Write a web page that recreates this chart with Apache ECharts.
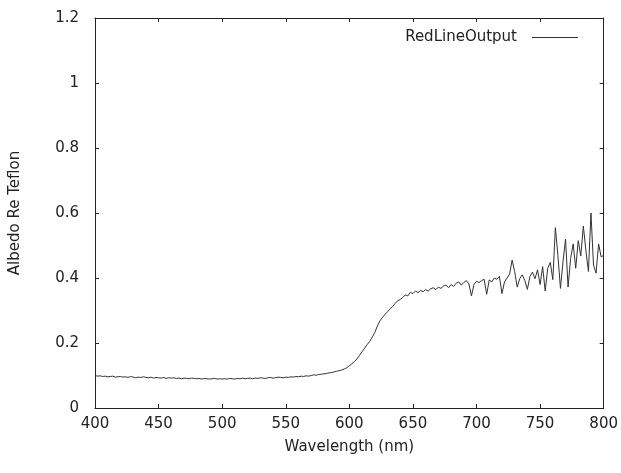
<!DOCTYPE html>
<html>
<head>
<meta charset="utf-8">
<title>RedLineOutput</title>
<script src="https://cdn.jsdelivr.net/npm/echarts@6/dist/echarts.min.js"></script>
<style>
  html, body { margin: 0; padding: 0; background: #fff; }
  #chart { width: 621px; height: 473px; }
</style>
</head>
<body>
<div id="chart"></div>
<script>
// Wavelength grid: 400 to 800 nm, one sample every 2 nm
const startNm = 400;
const stepNm = 2;

// Albedo values, 10 samples (20 nm) per row
const albedo = [
  0.100, 0.098, 0.099, 0.097, 0.098, 0.096, 0.097, 0.098, 0.095, 0.096, // 400
  0.097, 0.095, 0.096, 0.094, 0.097, 0.095, 0.093, 0.095, 0.094, 0.096, // 420
  0.094, 0.093, 0.095, 0.092, 0.094, 0.093, 0.092, 0.094, 0.091, 0.093, // 440
  0.092, 0.093, 0.091, 0.092, 0.090, 0.092, 0.091, 0.090, 0.092, 0.091, // 460
  0.090, 0.091, 0.089, 0.091, 0.090, 0.089, 0.090, 0.091, 0.089, 0.090, // 480
  0.089, 0.090, 0.089, 0.091, 0.090, 0.089, 0.091, 0.090, 0.092, 0.090, // 500
  0.091, 0.092, 0.090, 0.092, 0.091, 0.093, 0.092, 0.091, 0.093, 0.094, // 520
  0.092, 0.093, 0.095, 0.094, 0.093, 0.095, 0.094, 0.096, 0.095, 0.097, // 540
  0.096, 0.098, 0.097, 0.099, 0.098, 0.100, 0.102, 0.101, 0.103, 0.104, // 560
  0.105, 0.106, 0.108, 0.109, 0.111, 0.113, 0.115, 0.117, 0.120, 0.124, // 580
  0.130, 0.136, 0.143, 0.151, 0.162, 0.173, 0.184, 0.195, 0.205, 0.218, // 600
  0.232, 0.252, 0.268, 0.278, 0.288, 0.296, 0.305, 0.312, 0.322, 0.330, // 620
  0.334, 0.340, 0.348, 0.345, 0.356, 0.352, 0.360, 0.355, 0.362, 0.358, // 640
  0.364, 0.360, 0.367, 0.370, 0.364, 0.372, 0.368, 0.375, 0.378, 0.370, // 660
  0.380, 0.374, 0.384, 0.388, 0.378, 0.386, 0.392, 0.382, 0.345, 0.380, // 680
  0.390, 0.386, 0.392, 0.396, 0.350, 0.394, 0.388, 0.400, 0.396, 0.405, // 700
  0.352, 0.388, 0.400, 0.412, 0.455, 0.420, 0.372, 0.398, 0.410, 0.392, // 720
  0.365, 0.405, 0.418, 0.398, 0.425, 0.380, 0.435, 0.360, 0.430, 0.448, // 740
  0.395, 0.555, 0.470, 0.368, 0.450, 0.520, 0.372, 0.460, 0.505, 0.430, // 760
  0.515, 0.468, 0.560, 0.485, 0.420, 0.600, 0.440, 0.415, 0.505, 0.465, // 780
  0.470                                                                 // 800
];

const seriesName = 'RedLineOutput';
const xName = 'Wavelength (nm)';
const yName = 'Albedo Re Teflon';

// pair each value with its wavelength
const points = albedo.map((v, i) => [startNm + i * stepNm, v]);

const ink = '#222';
const font = 'DejaVu Sans';
const fontSize = 15;

const chart = echarts.init(document.getElementById('chart'));

// shared look for the boxed gnuplot-style frame
const frameAxis = {
  type: 'value',
  axisLine: { show: true, onZero: false, lineStyle: { color: ink, width: 1 } },
  axisTick: { show: true, inside: true, length: 4, lineStyle: { color: ink } },
  splitLine: { show: false },
  axisLabel: { color: ink, fontFamily: font, fontSize: fontSize }
};

chart.setOption({
  animation: false,
  backgroundColor: '#fff',
  grid: { left: 93, right: 17, top: 18, bottom: 65, containLabel: false },
  legend: {
    data: [seriesName],
    right: 38,
    top: 25,
    align: 'right',
    itemWidth: 46,
    itemHeight: 1,
    icon: 'rect',
    textStyle: { color: ink, fontFamily: font, fontSize: fontSize, padding: [0, 10, 0, 0] }
  },
  xAxis: [
    Object.assign({}, frameAxis, {
      min: 400, max: 800, interval: 50,
      name: xName, nameLocation: 'middle', nameGap: 32,
      nameTextStyle: { color: ink, fontFamily: font, fontSize: fontSize },
      axisLabel: Object.assign({}, frameAxis.axisLabel, { margin: 9 })
    }),
    Object.assign({}, frameAxis, {
      position: 'top', min: 400, max: 800, interval: 50,
      axisLabel: { show: false }
    })
  ],
  yAxis: [
    Object.assign({}, frameAxis, {
      min: 0, max: 1.2, interval: 0.2,
      name: yName, nameLocation: 'middle', nameGap: 72, nameRotate: 90,
      nameTextStyle: { color: ink, fontFamily: font, fontSize: fontSize },
      axisLabel: Object.assign({}, frameAxis.axisLabel, { margin: 16 })
    }),
    Object.assign({}, frameAxis, {
      position: 'right', min: 0, max: 1.2, interval: 0.2,
      axisLabel: { show: false }
    })
  ],
  series: [{
    name: seriesName,
    type: 'line',
    data: points,
    symbol: 'none',
    itemStyle: { color: '#333' },
    lineStyle: { color: '#333', width: 1 }
  }]
});
</script>
</body>
</html>
